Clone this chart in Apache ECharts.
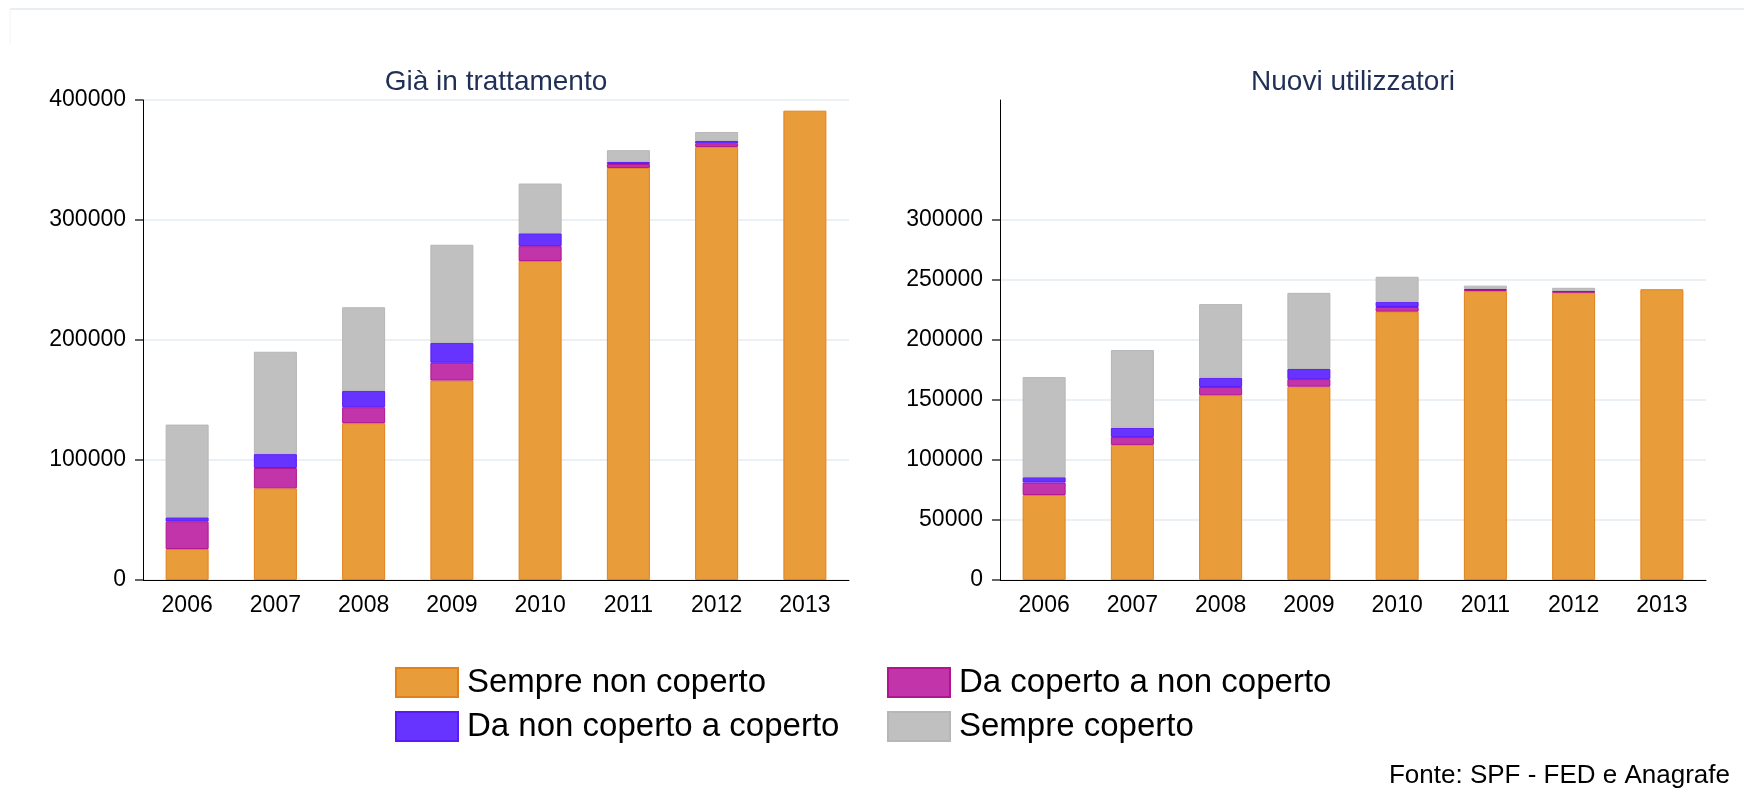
<!DOCTYPE html>
<html>
<head>
<meta charset="utf-8">
<script src="https://cdn.jsdelivr.net/npm/echarts@6/dist/echarts.min.js"></script>
<style>
  html, body { margin: 0; padding: 0; background: #fff; }
  #main { width: 1744px; height: 793px; }
</style>
</head>
<body>
<div id="main"></div>
<script>
var myChart = echarts.init(document.getElementById('main'));

// categories
var years = ['2006', '2007', '2008', '2009', '2010', '2011', '2012', '2013'];

// Già in trattamento
var giaSempreNon = [25800, 76400, 130700, 166200, 265800, 343400, 360900, 391100];
var giaCopToNon = [22800, 16900, 13300, 14800, 12400, 3300, 2700, 0];
var giaNonToCop = [3600, 11600, 13600, 16600, 10700, 1700, 2300, 0];
var giaSempreCop = [77300, 85300, 69700, 81800, 41500, 9800, 7400, 0];

// Nuovi utilizzatori
var nuoviSempreNon = [70800, 112600, 154000, 161100, 223600, 240800, 239600, 242300];
var nuoviCopToNon = [10400, 6500, 6800, 6300, 3900, 900, 600, 0];
var nuoviNonToCop = [4400, 7700, 7700, 8500, 4400, 900, 600, 0];
var nuoviSempreCop = [83500, 64800, 61400, 63400, 20800, 2700, 2700, 0];

var seriesNames = ['Sempre non coperto', 'Da coperto a non coperto', 'Da non coperto a coperto', 'Sempre coperto'];

var FONT = 'Liberation Sans, Arial, sans-serif';

// fill / border per series
var fills = ['#e99c3a', '#c234aa', '#6633ff', '#c0c0c0'];
var borders = ['#e2801a', '#b0148f', '#5a1af5', '#b6b6b6'];

function clean(arr) {
    return arr.map(function (v) { return v === 0 ? '-' : v; });
}

function makeSeries(dataSets, gridIdx, stackName) {
    var out = [];
    for (var i = 0; i < dataSets.length; i++) {
        out.push({
            name: seriesNames[i],
            type: 'bar',
            stack: stackName,
            xAxisIndex: gridIdx,
            yAxisIndex: gridIdx,
            barWidth: 43,
            data: clean(dataSets[i]),
            itemStyle: {
                color: fills[i],
                borderColor: borders[i],
                borderWidth: 1
            },
            emphasis: { disabled: true }
        });
    }
    return out;
}

var catAxis = function (gridIdx) {
    return {
        type: 'category',
        gridIndex: gridIdx,
        data: years,
        axisLine: { lineStyle: { color: '#000', width: 1 } },
        axisTick: { alignWithLabel: true, length: 7, lineStyle: { color: '#333' } },
        axisLabel: { color: '#000', fontSize: 23, fontFamily: FONT, margin: 14 }
    };
};

var valAxis = function (gridIdx, max, interval) {
    return {
        type: 'value',
        gridIndex: gridIdx,
        min: 0,
        max: max,
        interval: interval,
        axisLine: { show: true, lineStyle: { color: '#000', width: 1 } },
        axisTick: { show: true, length: 8, lineStyle: { color: '#666', width: 2 } },
        axisLabel: {
            color: '#000', fontSize: 23, fontFamily: FONT, margin: 17,
            formatter: function (v) { return String(v); }
        },
        splitLine: { show: true, lineStyle: { color: '#eaf0f3', width: 2 } }
    };
};

var legendCommon = {
    orient: 'vertical',
    icon: 'rect',
    itemWidth: 62,
    itemHeight: 29,
    itemGap: 11,
    padding: 0,
    selectedMode: false,
    textStyle: { color: '#000', fontSize: 33, fontFamily: FONT, padding: [0, 0, 0, 4] }
};

var option = {
    backgroundColor: '#fff',
    animation: false,
    title: [
        {
            text: 'Già in trattamento',
            left: 496, top: 68, textAlign: 'center', padding: 0,
            textStyle: { color: '#1f2f55', fontSize: 28, fontWeight: 'normal', fontFamily: FONT }
        },
        {
            text: 'Nuovi utilizzatori',
            left: 1353, top: 68, textAlign: 'center', padding: 0,
            textStyle: { color: '#1f2f55', fontSize: 28, fontWeight: 'normal', fontFamily: FONT }
        },
        {
            text: 'Fonte: SPF - FED e Anagrafe',
            right: 14, top: 763, padding: 0,
            textStyle: { color: '#000', fontSize: 26, fontWeight: 'normal', fontFamily: FONT }
        }
    ],
    legend: [
        Object.assign({}, legendCommon, { left: 395, top: 666, data: [seriesNames[0], seriesNames[2]] }),
        Object.assign({}, legendCommon, { left: 887, top: 666, data: [seriesNames[1], seriesNames[3]] })
    ],
    grid: [
        { left: 143, right: 895, top: 100, bottom: 213 },
        { left: 1000, right: 38, top: 220, bottom: 213 },
        // only to carry the taller y axis line of the right panel
        { left: 1000, right: 38, top: 100, bottom: 213 }
    ],
    xAxis: [
        catAxis(0),
        catAxis(1),
        { type: 'category', gridIndex: 2, data: years, show: false }
    ],
    yAxis: [
        valAxis(0, 400000, 100000),
        valAxis(1, 300000, 50000),
        {
            type: 'value', gridIndex: 2, min: 0, max: 400000,
            axisLine: { show: true, lineStyle: { color: '#000', width: 1 } },
            axisTick: { show: false }, axisLabel: { show: false }, splitLine: { show: false }
        }
    ],
    graphic: [
        { type: 'line', shape: { x1: 10, y1: 9, x2: 1744, y2: 9 }, style: { stroke: '#e8eef2', lineWidth: 2 }, silent: true },
        { type: 'line', shape: { x1: 10, y1: 9, x2: 10, y2: 44 }, style: { stroke: '#eef2f4', lineWidth: 1 }, silent: true }
    ],
    series: makeSeries([giaSempreNon, giaCopToNon, giaNonToCop, giaSempreCop], 0, 'gia')
        .concat(makeSeries([nuoviSempreNon, nuoviCopToNon, nuoviNonToCop, nuoviSempreCop], 1, 'nuovi'))
};

myChart.setOption(option);
</script>
</body>
</html>
